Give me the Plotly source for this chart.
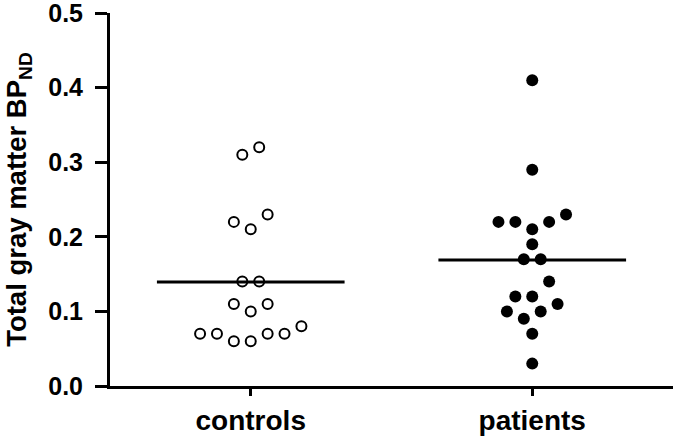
import numpy as np
import plotly.graph_objects as go

categories = ["controls", "patients"]
controls = [0.32, 0.31, 0.23, 0.22, 0.21, 0.14, 0.14, 0.11, 0.11, 0.10,
            0.08, 0.07, 0.07, 0.07, 0.07, 0.06, 0.06]
patients = [0.41, 0.29, 0.23, 0.22, 0.22, 0.22, 0.21, 0.19, 0.17, 0.17,
            0.14, 0.12, 0.12, 0.11, 0.10, 0.10, 0.09, 0.07, 0.03]

STEP = 0.06   # horizontal spacing of dots sharing a row, in category units
ROW = 3       # row height for the dot layout, in hundredths
FONT = "Liberation Sans, Arial, sans-serif"


def dot_offsets(values):
    """Prism-like column scatter: bin values into rows, spread each row."""
    vals = np.asarray(values)
    rows = np.round(vals * 100).astype(int) // ROW
    offs = np.zeros(len(vals))
    for r in np.unique(rows):
        idx = np.where(rows == r)[0]
        idx = idx[np.argsort(vals[idx], kind="stable")]
        n = len(idx)
        if n % 2:
            slots = [0]
            for k in range(1, n // 2 + 1):
                slots += [-k, k]
        else:
            slots = []
            for k in range(n // 2):
                slots += [-(k + 0.5), k + 0.5]
        for i, s in zip(idx, slots):
            offs[i] = s * STEP
    return offs


fig = go.Figure()

groups = [controls, patients]
styles = [
    dict(size=10, color="white", line=dict(color="black", width=2)),
    dict(size=12, color="black", line=dict(color="black", width=0)),
]

for i, (vals, mk) in enumerate(zip(groups, styles)):
    fig.add_trace(
        go.Scatter(
            x=i + dot_offsets(vals),
            y=vals,
            mode="markers",
            marker=mk,
            showlegend=False,
            hoverinfo="y",
        )
    )
    m = float(np.mean(vals))
    fig.add_trace(
        go.Scatter(
            x=[i - 1 / 3, i + 1 / 3],
            y=[m, m],
            mode="lines",
            line=dict(color="black", width=3),
            showlegend=False,
            hoverinfo="skip",
        )
    )

fig.update_layout(
    width=675,
    height=440,
    margin=dict(l=110, r=2, t=13, b=54),
    plot_bgcolor="white",
    paper_bgcolor="white",
    font=dict(family=FONT, color="black"),
)

fig.update_xaxes(
    range=[-0.5, 1.5],
    tickvals=[0, 1],
    ticktext=categories,
    automargin=False,
    showline=True,
    linewidth=3,
    linecolor="black",
    ticks="outside",
    ticklen=7,
    tickwidth=3,
    tickcolor="black",
    showgrid=False,
    zeroline=False,
    tickfont=dict(size=28, family=FONT, weight="bold"),
)

fig.update_yaxes(
    range=[0, 0.5],
    tickvals=[0, 0.1, 0.2, 0.3, 0.4, 0.5],
    tickformat=".1f",
    automargin=False,
    showline=True,
    linewidth=3,
    linecolor="black",
    ticks="outside",
    ticklen=12,
    tickwidth=3,
    tickcolor="black",
    ticklabelstandoff=7,
    ticklabeloverflow="allow",
    showgrid=False,
    zeroline=False,
    tickfont=dict(size=25, family=FONT, weight="bold"),
    title=dict(
        text="<b>Total gray matter BP<sub>ND</sub></b>",
        font=dict(size=27.5, family=FONT),
        standoff=14,
    ),
)

# drop the browser's default 8px page margin so the figure sits at 0,0
fig.write_html(
    "out.html",
    config={"displayModeBar": False},
    post_script="document.body.style.margin='0';",
)
